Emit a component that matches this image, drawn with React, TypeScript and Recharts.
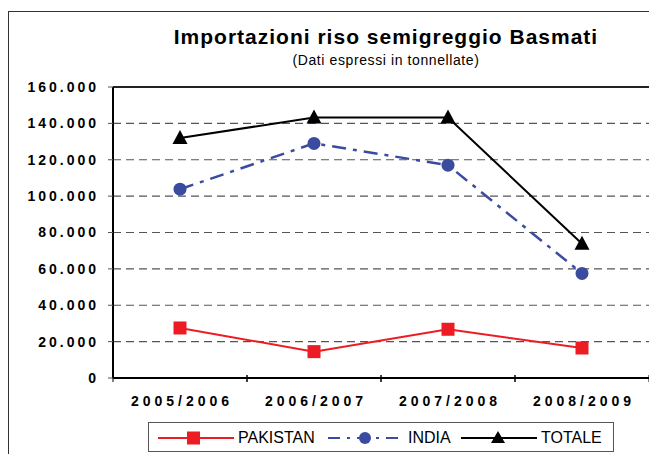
import React from "react";
import {
  LineChart,
  Line,
  XAxis,
  YAxis,
  CartesianGrid,
  ReferenceLine,
} from "recharts";

const categories = ["2005/2006", "2006/2007", "2007/2008", "2008/2009"];
const pakistan = [27500, 14500, 26800, 16500];
const india = [103800, 129000, 117000, 57500];
const totale = [132000, 143200, 143200, 73800];
const yTicks = [0, 20000, 40000, 60000, 80000, 100000, 120000, 140000, 160000];

const RED = "#ED1C24";
const BLUE = "#3A4BA0";
const BLACK = "#000000";
const FONT = "Arial, 'Liberation Sans', sans-serif";
const BAND = 134;

const data = categories.map((c, i) => ({
  name: c,
  pakistan: pakistan[i],
  india: india[i],
  totale: totale[i],
}));

const fmt = (v: number) =>
  v === 0 ? "0" : `${Math.floor(v / 1000)}.${String(v % 1000).padStart(3, "0")}`;

const SquareDot = (props: any) => {
  const { cx, cy, index } = props;
  return <rect key={`sq-${index}`} x={cx - 6.5} y={cy - 6.5} width={13} height={13} fill={RED} />;
};

const CircleDot = (props: any) => {
  const { cx, cy, index } = props;
  return <circle key={`ci-${index}`} cx={cx} cy={cy} r={6.5} fill={BLUE} />;
};

const TriangleDot = (props: any) => {
  const { cx, cy, index } = props;
  return (
    <polygon
      key={`tr-${index}`}
      points={`${cx},${cy - 8} ${cx - 7.5},${cy + 6} ${cx + 7.5},${cy + 6}`}
      fill={BLACK}
    />
  );
};

const XTick = (props: any) => {
  const { x, y, payload } = props;
  return (
    <g>
      <line x1={x - BAND / 2} x2={x - BAND / 2} y1={y - 3} y2={y + 4} stroke="#000" />
      <line x1={x + BAND / 2} x2={x + BAND / 2} y1={y - 3} y2={y + 4} stroke="#000" />
      <text
        x={x + 2}
        y={y + 28}
        textAnchor="middle"
        fontFamily={FONT}
        fontWeight="bold"
        fontSize={14}
        letterSpacing={4}
        fill="#000"
      >
        {payload.value}
      </text>
    </g>
  );
};

const LegendItem = ({ kind, label, left }: { kind: string; label: string; left: number }) => {
  const color = kind === "sq" ? RED : kind === "ci" ? BLUE : BLACK;
  return (
    <div style={{ position: "absolute", left, top: 0, height: 30, display: "flex", alignItems: "center" }}>
      <svg width={78} height={20}>
        <line
          x1={1}
          x2={77}
          y1={10}
          y2={10}
          stroke={color}
          strokeWidth={2}
          strokeDasharray={kind === "ci" ? "12 7 3 7" : undefined}
        />
        {kind === "sq" && <rect x={30} y={3.5} width={13} height={13} fill={RED} />}
        {kind === "ci" && <circle cx={38} cy={10} r={6} fill={BLUE} />}
        {kind === "tr" && <polygon points="38,3 31,15 45,15" fill={BLACK} />}
      </svg>
      <span style={{ fontFamily: FONT, fontSize: 16, marginLeft: 3, color: "#000" }}>{label}</span>
    </div>
  );
};

export default function App() {
  return (
    <div
      style={{
        position: "absolute",
        left: 0,
        top: 0,
        width: 649,
        height: 454,
        overflow: "hidden",
        background: "#fff",
      }}
    >
      <div
        style={{
          position: "absolute",
          left: 8,
          top: 11,
          width: 700,
          height: 500,
          border: "1px solid #333",
        }}
      />
      <div
        style={{
          position: "absolute",
          left: 136,
          width: 500,
          top: 24,
          textAlign: "center",
          fontFamily: FONT,
          fontWeight: "bold",
          fontSize: 21,
          letterSpacing: 1,
          lineHeight: "26px",
          color: "#000",
          whiteSpace: "nowrap",
        }}
      >
        Importazioni riso semigreggio Basmati
      </div>
      <div
        style={{
          position: "absolute",
          left: 236,
          width: 300,
          top: 52,
          textAlign: "center",
          fontFamily: FONT,
          fontSize: 14,
          letterSpacing: 0.6,
          lineHeight: "17px",
          color: "#000",
        }}
      >
        (Dati espressi in tonnellate)
      </div>
      <div style={{ position: "absolute", left: 0, top: 0 }}>
        <LineChart width={649} height={454} data={data} margin={{ top: 87, right: 0, left: 8, bottom: 36 }}>
          <CartesianGrid
            vertical={false}
            stroke="#555"
            strokeDasharray="8 5"
            strokeWidth={1.2}
          />
          <XAxis
            dataKey="name"
            height={40}
            padding={{ left: BAND / 2, right: BAND / 2 }}
            axisLine={{ stroke: "#000", strokeWidth: 2 }}
            tickLine={false}
            tickSize={0}
            tickMargin={0}
            tick={<XTick />}
            interval={0}
          />
          <YAxis
            width={105}
            domain={[0, 160000]}
            ticks={yTicks}
            interval={0}
            tickFormatter={fmt}
            axisLine={{ stroke: "#000", strokeWidth: 2 }}
            tickLine={{ stroke: "#555" }}
            tickSize={5}
            tickMargin={9}
            tick={{ fill: "#000", fontSize: 14, fontWeight: "bold", fontFamily: FONT, letterSpacing: 3 }}
          />
          <ReferenceLine y={160000} stroke="#222" strokeWidth={2} />
          <Line
            dataKey="pakistan"
            stroke={RED}
            strokeWidth={2}
            dot={SquareDot}
            activeDot={false}
            isAnimationActive={false}
          />
          <Line
            dataKey="india"
            stroke={BLUE}
            strokeWidth={2.5}
            strokeDasharray="14 7 4 7"
            dot={CircleDot}
            activeDot={false}
            isAnimationActive={false}
          />
          <Line
            dataKey="totale"
            stroke={BLACK}
            strokeWidth={2}
            dot={TriangleDot}
            activeDot={false}
            isAnimationActive={false}
          />
        </LineChart>
      </div>
      <div
        style={{
          position: "absolute",
          left: 148,
          top: 422,
          width: 466,
          height: 30,
          border: "1px solid #555",
          boxSizing: "border-box",
        }}
      >
        <LegendItem kind="sq" label="PAKISTAN" left={8} />
        <LegendItem kind="ci" label="INDIA" left={178} />
        <LegendItem kind="tr" label="TOTALE" left={311} />
      </div>
    </div>
  );
}
